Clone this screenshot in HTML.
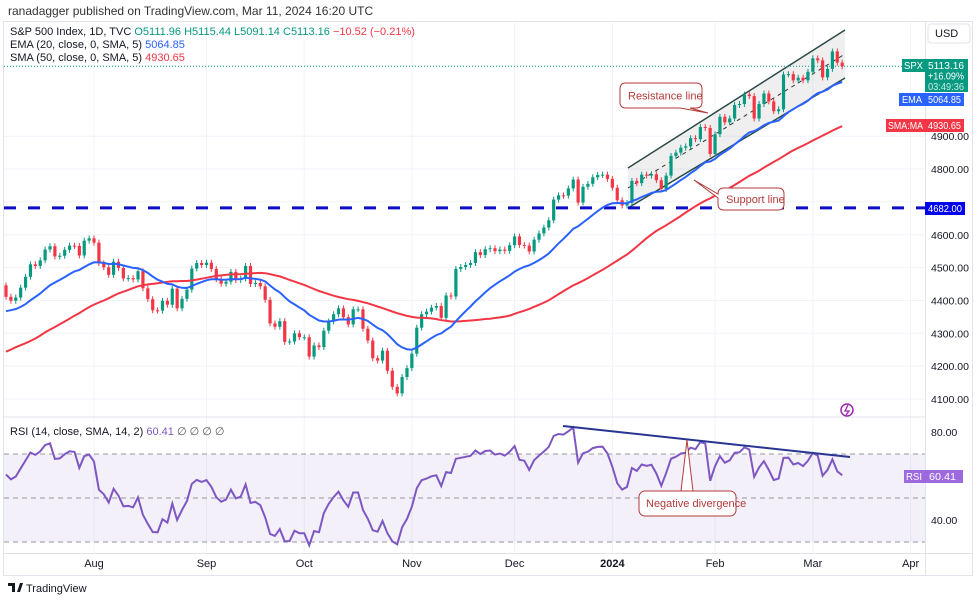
<!DOCTYPE html>
<html><head><meta charset="utf-8">
<style>
html,body{margin:0;padding:0;background:#fff;}
body{width:980px;height:600px;overflow:hidden;font-family:"Liberation Sans",sans-serif;}
svg text{font-family:"Liberation Sans",sans-serif;}
</style></head>
<body>
<svg id="chart" width="980" height="600" viewBox="0 0 980 600">
<rect x="0" y="0" width="980" height="600" fill="#fff"/>
<text x="8" y="15" font-size="12" fill="#333">ranadagger published on TradingView.com, Mar 11, 2024 16:20 UTC</text>
<rect x="3.5" y="21.5" width="969" height="554" fill="none" stroke="#e0e3eb"/>
<defs>
<clipPath id="mainClip"><rect x="4" y="22" width="921" height="394"/></clipPath>
<clipPath id="rsiClip"><rect x="4" y="418" width="921" height="135"/></clipPath>
</defs>
<g id="grid"></g>
<g id="rsiBg"></g>
<g id="channel" clip-path="url(#mainClip)"></g>
<g id="candles" clip-path="url(#mainClip)"></g>
<g id="mas" clip-path="url(#mainClip)"></g>
<g id="rsi" clip-path="url(#rsiClip)"></g>
<g id="axes"></g>
<g id="annot"></g>
</svg>
<script>
// warm-up closes (not drawn) Apr 14 – Jul 5 2023
const warmCloses=[4137,4151,4154,4154,4129,4133,4137,4071,4055,4135,4169,4167,4119,4091,4061,4136,4138,4119,4137,4130,4124,4136,4109,4158,4198,4191,4192,4145,4115,4151,4205,4206,4180,4221,4282,4273,4283,4268,4294,4299,4338,4369,4373,4426,4410,4389,4366,4381,4348,4328,4378,4376,4396,4450,4455,4446];
// visible closes Jul 6 2023 – Mar 11 2024
const closes=[4411,4399,4409,4439,4472,4510,4505,4522,4555,4565,4534,4536,4554,4567,4566,4537,4582,4589,
4576,4513,4501,4478,4518,4499,4467,4468,4464,4489,4437,4404,4370,4369,4399,4387,4436,4376,4405,4433,4497,4514,4508,
4515,4496,4465,4451,4457,4487,4462,4467,4505,4450,4453,4443,4402,4330,4320,4337,4274,4275,4300,4288,
4288,4229,4263,4258,4308,4336,4358,4376,4349,4327,4373,4373,4314,4278,4224,4217,4247,4186,4137,4117,4167,4194,
4238,4317,4358,4366,4378,4383,4347,4415,4412,4496,4502,4508,4514,4547,4538,4556,4559,4550,4555,4551,4568,
4595,4569,4567,4549,4585,4604,4622,4644,4707,4720,4719,4741,4768,4698,4746,4755,4775,4782,4783,4770,
4743,4705,4689,4697,4764,4757,4783,4780,4784,4766,4739,4780,4840,4850,4865,4869,4894,4891,4928,4925,4846,
4906,4959,4942,4954,4995,4998,5027,5022,4954,4998,5030,5006,4976,4982,5088,5089,5070,5078,5070,5096,
5137,5131,5079,5105,5158,5124,5113];
const priceTicks=[4100,4200,4300,4400,4500,4600,4800,4900];
const rsiTicks=[80,40];
const monthLabels=["Aug","Sep","Oct","Nov","Dec","2024","Feb","Mar","Apr"];
const monthIdx=[18,41,61,83,104,124,145,165,185];
const supportLevel=4682;

const NS="http://www.w3.org/2000/svg";
function el(tag,attrs,parent){const e=document.createElementNS(NS,tag);for(const k in attrs)e.setAttribute(k,attrs[k]);parent.appendChild(e);return e;}
const py=p=>399-(p-4100)*0.3285;
const xi=i=>6+i*4.89;
const ry=v=>432+(80-v)*2.2;

const all=warmCloses.concat(closes);
const W=warmCloses.length;
const ema=[];let k=2/21;
all.forEach((c,i)=>{ if(i<20){ema.push(null);} else if(i===20){let s=0;for(let j=1;j<=20;j++)s+=all[j];ema.push(s/20);} else ema.push(c*k+ema[i-1]*(1-k)); });
const sma=all.map((c,i)=>{if(i<49)return null;let s=0;for(let j=i-49;j<=i;j++)s+=all[j];return s/50;});
const rsi=[null];let ag=0,al=0;
for(let i=1;i<all.length;i++){const d=all[i]-all[i-1];const g=Math.max(d,0),l=Math.max(-d,0);
 if(i<=14){ag+=g/14;al+=l/14;rsi.push(null);} else {ag=(ag*13+g)/14;al=(al*13+l)/14;rsi.push(100-100/(1+ag/(al||1e-9)));}}

const grid=document.getElementById('grid');
priceTicks.concat([4700]).forEach(p=>{const l=el('line',{x1:4,x2:925,y1:py(p),y2:py(p),stroke:'#f0f3fa'},grid);

});
monthIdx.forEach(i=>{const l=el('line',{x1:xi(i),x2:xi(i),y1:22,y2:553,stroke:'#f0f3fa'},grid);

});

const rb=document.getElementById('rsiBg');
el('rect',{x:4,y:ry(70),width:921,height:ry(30)-ry(70),fill:'#7e57c2','fill-opacity':0.09},rb);
[70,50,30].forEach(v=>{const l=el('line',{x1:4,x2:925,y1:ry(v),y2:ry(v),stroke:'#9598a1','stroke-dasharray':'5,4','stroke-width':1},rb);

});
el('line',{x1:4,x2:925,y1:417,y2:417,stroke:'#e0e3eb'},rb);

const ch=document.getElementById('channel');
const poly=el('polygon',{points:'628,168 845,30 845,78 628,208',fill:'#787b86','fill-opacity':0.12},ch);


const up=el('line',{x1:628,y1:168,x2:845,y2:30,stroke:'#2b4a46','stroke-width':1.5},ch);


const lo=el('line',{x1:628,y1:208,x2:845,y2:78,stroke:'#2b4a46','stroke-width':1.5},ch);


const mid=el('line',{x1:628,y1:188,x2:845,y2:54,stroke:'#333','stroke-width':1,'stroke-dasharray':'4,4'},ch);


const lp=el('line',{x1:4,x2:925,y1:py(closes[closes.length-1]),y2:py(closes[closes.length-1]),stroke:'#089981','stroke-dasharray':'1,2'},ch);


const sl=el('line',{x1:4,x2:925,y1:py(supportLevel),y2:py(supportLevel),stroke:'#0d0dc8','stroke-width':3,'stroke-dasharray':'12,12'},ch);



const cg=document.getElementById('candles');
closes.forEach((c,i)=>{
 const o=i===0?warmCloses[W-1]:closes[i-1];
 const col=c>=o?'#089981':'#f23645';
 const x=xi(i);
 const hi=Math.max(o,c)+9, lw=Math.min(o,c)-9;
 const w=el('line',{x1:x,x2:x,y1:py(hi),y2:py(lw),stroke:col,'stroke-width':1},cg);
 
 
 const top=py(Math.max(o,c)),bot=py(Math.min(o,c));
 const b=el('rect',{x:x-1.6,y:top,width:3.2,height:Math.max(bot-top,1),fill:col},cg);
 
 
});

const mg=document.getElementById('mas');
function linePath(arr,fy){let d='';for(let i=0;i<closes.length;i++){const v=arr[W+i];if(v==null)continue;d+=(d?'L':'M')+xi(i).toFixed(1)+','+fy(v).toFixed(1);}return d;}
const sp=el('path',{d:linePath(sma,py),fill:'none',stroke:'#f23645','stroke-width':2},mg);


const ep=el('path',{d:linePath(ema,py),fill:'none',stroke:'#2962ff','stroke-width':2},mg);



const rg=document.getElementById('rsi');
const rp=el('path',{d:linePath(rsi,ry),fill:'none',stroke:'#7e57c2','stroke-width':2},rg);


const tl=el('line',{x1:563,y1:426,x2:850,y2:457,stroke:'#283593','stroke-width':2},rg);



const ax=document.getElementById('axes');
el('line',{x1:925.5,x2:925.5,y1:22,y2:575,stroke:'#e0e3eb'},ax);
el('line',{x1:4,x2:973,y1:553.5,y2:553.5,stroke:'#e0e3eb'},ax);
priceTicks.forEach(p=>{const t=el('text',{x:931,y:py(p)+4,'font-size':10.5,fill:'#131722'},ax);t.textContent=p.toFixed(2);

});
rsiTicks.forEach(v=>{const t=el('text',{x:931,y:ry(v)+4,'font-size':10.5,fill:'#131722'},ax);t.textContent=v.toFixed(2);

});
monthLabels.forEach((m,j)=>{const t=el('text',{x:xi(monthIdx[j]),y:567,'font-size':11,fill:'#131722','text-anchor':'middle','font-weight':m==='2024'?'bold':'normal'},ax);t.textContent=m;

});
</script>
<svg width="980" height="600" style="position:absolute;left:0;top:0">
<g font-size="11">
<text x="10" y="35" fill="#131722">S&amp;P 500 Index, 1D, TVC <tspan fill="#089981">O5111.96</tspan> <tspan fill="#089981">H5115.44</tspan> <tspan fill="#089981">L5091.14</tspan> <tspan fill="#089981">C5113.16</tspan> <tspan fill="#f23645">−10.52 (−0.21%)</tspan></text>
<text x="10" y="48" fill="#131722">EMA (20, close, 0, SMA, 5) <tspan fill="#2962ff">5064.85</tspan></text>
<text x="10" y="61" fill="#131722">SMA (50, close, 0, SMA, 5) <tspan fill="#f23645">4930.65</tspan></text>
<text x="10" y="435" fill="#131722">RSI (14, close, SMA, 14, 2) <tspan fill="#7e57c2">60.41</tspan> <tspan fill="#555">∅ ∅ ∅ ∅</tspan></text>
</g>
<g><rect x="928" y="24" width="42" height="19" rx="3" fill="#fff" stroke="#e0e3eb"/><text x="935" y="37" font-size="11" fill="#131722">USD</text></g>
<g font-size="10" fill="#fff">
<rect x="902" y="59" width="23" height="13" fill="#089981"/><text x="904" y="69" textLength="19" lengthAdjust="spacingAndGlyphs">SPX</text>
<rect x="925" y="59" width="43" height="33" fill="#089981"/>
<text x="928" y="69" textLength="36" lengthAdjust="spacingAndGlyphs">5113.16</text><text x="928" y="79.5" textLength="36" lengthAdjust="spacingAndGlyphs">+16.09%</text><text x="928" y="90" fill="#c8ece6" textLength="36" lengthAdjust="spacingAndGlyphs">03:49:36</text>
<rect x="899" y="93" width="26" height="13" fill="#2962ff"/><text x="902" y="103" textLength="20" lengthAdjust="spacingAndGlyphs">EMA</text>
<rect x="925" y="93" width="39" height="13" fill="#2962ff"/><text x="928" y="103" textLength="33" lengthAdjust="spacingAndGlyphs">5064.85</text>
<rect x="886" y="119" width="39" height="13" fill="#f23645"/><text x="888" y="129" textLength="35" lengthAdjust="spacingAndGlyphs">SMA:MA</text>
<rect x="925" y="119" width="39" height="13" fill="#f23645"/><text x="928" y="129" textLength="33" lengthAdjust="spacingAndGlyphs">4930.65</text>
<rect x="925" y="202" width="40" height="13" fill="#0000f0"/><text x="928" y="212" textLength="34" lengthAdjust="spacingAndGlyphs">4682.00</text>
<rect x="904" y="470" width="21" height="13" fill="#9c6ade"/><text x="906" y="480" textLength="16" lengthAdjust="spacingAndGlyphs">RSI</text>
<rect x="925" y="470" width="38" height="13" fill="#9c6ade"/><text x="929" y="480" textLength="27" lengthAdjust="spacingAndGlyphs">60.41</text>
</g>
<g>
<path d="M626,83 H696 Q702,83 702,89 V102 Q702,108 696,108 H690 L708,113 L680,108 H626 Q620,108 620,102 V89 Q620,83 626,83 Z" fill="#fff" stroke="#b33a3a" stroke-width="1"/>
<text x="628" y="99.5" font-size="11" fill="#b33a3a">Resistance line</text></g>
<g>
<path d="M724,188 H778 Q784,188 784,194 V204 Q784,210 778,210 H724 Q718,210 718,204 V198 L694,180 L718,194 V194 Q718,188 724,188 Z" fill="#fff" stroke="#b33a3a" stroke-width="1"/>
<text x="726" y="203" font-size="11" fill="#b33a3a">Support line</text></g>
<g>
<path d="M681,491 L687,440 L693,491" fill="#fff" stroke="#b33a3a" stroke-width="1"/>
<rect x="639" y="491" width="97" height="25" rx="6" fill="#fff" stroke="#b33a3a"/>
<text x="646" y="507" font-size="11" fill="#b33a3a">Negative divergence</text></g>
<g><circle cx="847" cy="410" r="6" fill="none" stroke="#9c27b0" stroke-width="1.5"/><path d="M848,405 L845,411 H849 L846,415" fill="none" stroke="#9c27b0" stroke-width="1.3"/></g>
<g><path d="M8,583 h7 v9 h-3 v-6 h-4 z M17,592 l3,-9 h3 l-3,9 z" fill="#131722"/><text x="26" y="592" font-size="11" fill="#131722">TradingView</text></g>
</svg>
</body></html>
